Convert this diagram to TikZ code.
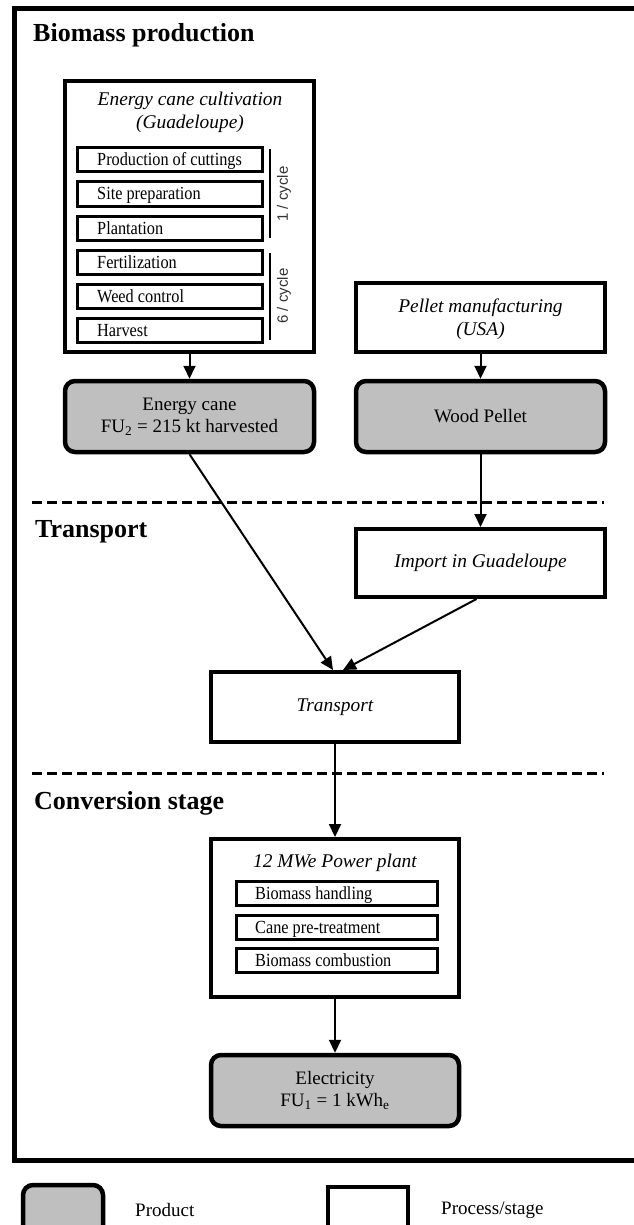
\documentclass[tikz,border=0pt]{standalone}
\usepackage{fontspec}
\setmainfont{Liberation Serif}
\newfontfamily\cyclefont{Liberation Sans}
\newfontfamily\condfont{Liberation Serif}[FakeStretch=0.88]
\usetikzlibrary{arrows.meta}
\definecolor{prodgray}{HTML}{BFBFBF}
\tikzset{
  procbox/.style={draw=black, line width=4pt, fill=white, inner sep=0pt},
  prodbox/.style={draw=black, line width=4.5pt, fill=prodgray, rounded corners=10pt, inner sep=0pt,
    align=center, font=\fontsize{19}{22}\selectfont},
  subbox/.style={draw=black, line width=3pt, fill=white, minimum height=24pt, inner sep=0pt},
  subtxt/.style={anchor=base west, inner sep=0pt, font=\condfont\fontsize{18.5}{21}\selectfont},
  ititle/.style={align=center, inner sep=0pt, font=\fontsize{19.4}{23}\selectfont\itshape},
  stagetitle/.style={anchor=base west, inner sep=0pt, font=\fontsize{26}{30}\selectfont\bfseries},
  cyclelbl/.style={rotate=90, inner sep=0pt, text=black!80, font=\fontsize{15}{18}\selectfont\cyclefont},
  conn/.style={line width=2pt, -{Triangle[width=12pt,length=13pt]}},
  sep/.style={line width=3pt, dash pattern=on 10pt off 5pt},
  legtxt/.style={anchor=west, inner sep=0pt, font=\fontsize{19}{22}\selectfont},
}
\begin{document}
\begin{tikzpicture}[x=1pt,y=-1pt]
\useasboundingbox (0,0) rectangle (633,1225);
% outer frame (right side beyond the picture)
\draw[line width=5pt] (640,8.5) -- (14,8.5) -- (14,1160) -- (640,1160);

% stage titles
\node[stagetitle] (t1) at (33,42) {Biomass production};
\node[stagetitle] (t2) at (35,537) {Transport};
\node[stagetitle] (t3) at (34,809) {Conversion stage};

% separators
\coordinate (d1a) at (32,502); \coordinate (d1b) at (604,502);
\coordinate (d2a) at (32,773); \coordinate (d2b) at (604,773);
\draw[sep] (d1a) -- (d1b);
\draw[sep] (d2a) -- (d2b);

% energy cane cultivation
\node[procbox, minimum width=249pt, minimum height=271pt] (cult) at (189.5,216.5) {};
\node[ititle] (cultT) at (190,112) {Energy cane cultivation\\(Guadeloupe)};
\foreach \n/\y/\t in {s1/160/Production of cuttings, s2/194/Site preparation, s3/228/Plantation,
                      s4/262/Fertilization, s5/296/Weed control, s6/330/Harvest}{
  \node[subbox, minimum width=185pt] (\n) at (169.5,\y) {};
  \node[subtxt] (\n t) at (97,\y+6) {\t};
}
\coordinate (b1a) at (270,149); \coordinate (b1b) at (270,238);
\coordinate (b2a) at (270,253); \coordinate (b2b) at (270,340);
\draw[line width=2pt] (b1a) -- (b1b);
\draw[line width=2pt] (b2a) -- (b2b);
\node[cyclelbl] (c1) at (284,194) {1 / cycle};
\node[cyclelbl] (c2) at (284,296) {6 / cycle};

% products of biomass stage
\node[prodbox, minimum width=249pt, minimum height=71pt] (cane) at (189.5,416.5)
  {Energy cane\\FU\textsubscript{2} = 215 kt harvested};
\node[procbox, minimum width=249pt, minimum height=69pt] (pellman) at (480.5,317.5) {};
\node[ititle] (pellmanT) at (480.5,319) {Pellet manufacturing\\(USA)};
\node[prodbox, minimum width=249pt, minimum height=71pt] (wood) at (480.5,416.5) {Wood Pellet};

% transport
\node[procbox, minimum width=249pt, minimum height=68pt, font=\fontsize{19.4}{23}\selectfont\itshape]
  (import) at (480.5,563) {Import in Guadeloupe};
\node[procbox, minimum width=248pt, minimum height=70pt, font=\fontsize{19.4}{23}\selectfont\itshape]
  (transport) at (335,707) {Transport};

% conversion
\node[procbox, minimum width=248pt, minimum height=158pt] (plant) at (335,918) {};
\node[ititle] (plantT) at (335,863) {12 MWe Power plant};
\foreach \n/\y/\t in {p1/893/Biomass handling, p2/927/Cane pre-treatment, p3/960.5/Biomass combustion}{
  \node[subbox, minimum width=201pt] (\n) at (336.5,\y) {};
  \node[subtxt] (\n t) at (255,\y+6) {\t};
}
\node[prodbox, minimum width=248pt, minimum height=71pt] (elec) at (335,1090.5)
  {Electricity\\FU\textsubscript{1} = 1 kWh\textsubscript{e}};

% connectors
\draw[conn] (cult.south) -- (cane.north);
\draw[conn] (pellman.south) -- (wood.north);
\draw[conn] (wood.south) -- (import.north);
\draw[conn] (cane.south) -- ([xshift=-2pt]transport.north);
\draw[conn] ([xshift=-4pt]import.south) -- ([xshift=8pt]transport.north);
\draw[conn] (transport.south) -- (plant.north);
\draw[conn] (plant.south) -- (elec.north);

% legend
\node[prodbox, minimum width=80pt, minimum height=60pt] (legP) at (63,1215) {};
\node[legtxt] (legPt) at (135,1210) {Product};
\node[procbox, minimum width=80pt, minimum height=60pt] (legS) at (368,1217) {};
\node[legtxt] (legSt) at (441,1210) {Process/stage};
\end{tikzpicture}
\end{document}
